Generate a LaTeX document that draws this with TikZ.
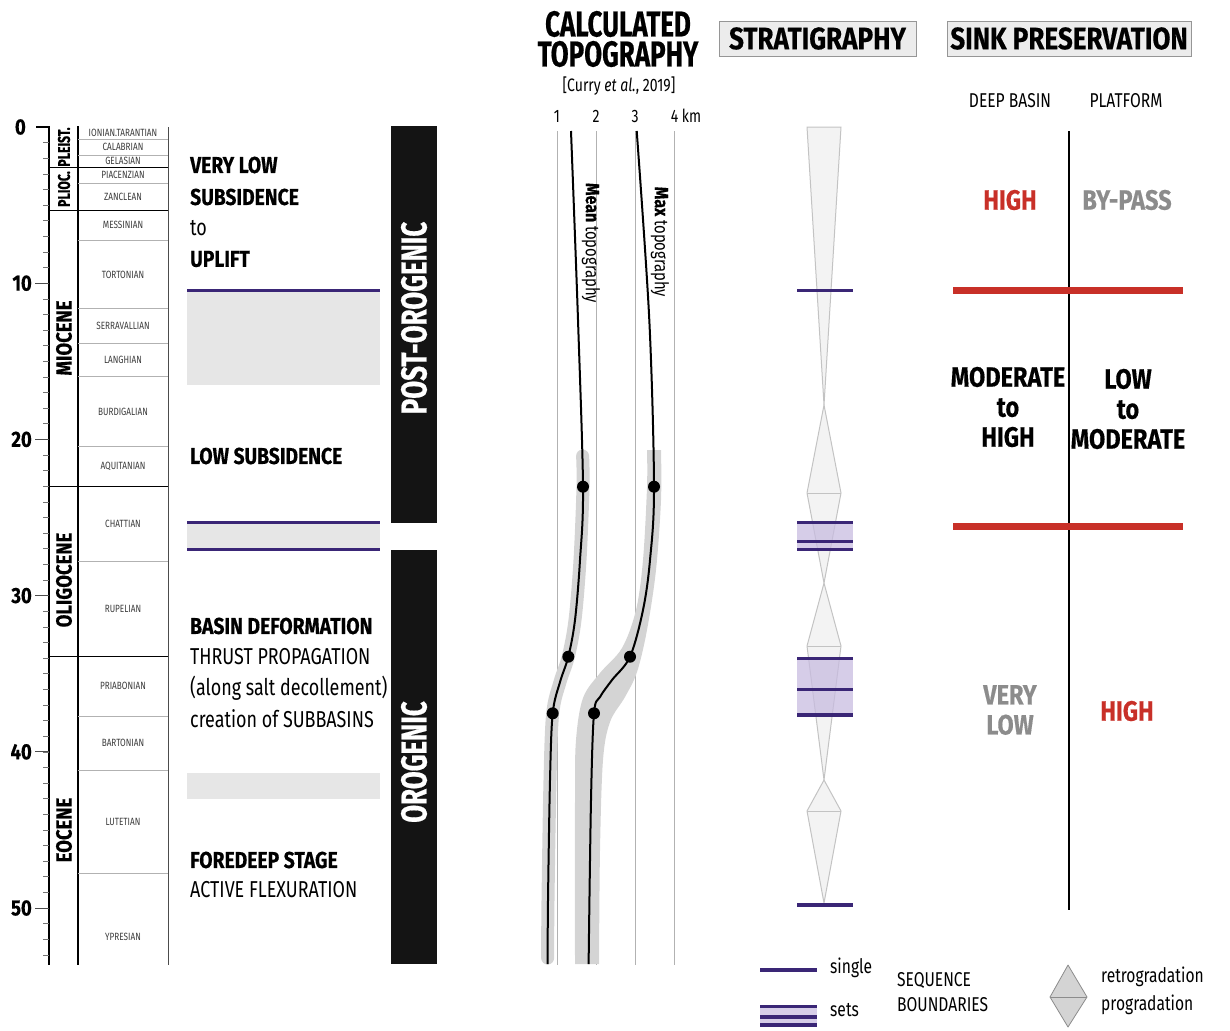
\documentclass[tikz,border=0pt]{standalone}
\usepackage{fontspec}
\setmainfont{Fira Sans}[FakeStretch=0.78, BoldFeatures={FakeStretch=0.84, FakeBold=0.4}]
\newfontfamily\condfont{Fira Sans}[FakeStretch=0.72, BoldFeatures={FakeStretch=0.72, FakeBold=0.5}]
\definecolor{purp}{RGB}{58,38,118}
\definecolor{purpfill}{RGB}{200,188,224}
\definecolor{redc}{RGB}{200,48,40}
\definecolor{bandgray}{RGB}{230,230,230}
\definecolor{topogray}{RGB}{212,212,212}
\definecolor{trifill}{RGB}{243,243,243}
\definecolor{tristroke}{RGB}{195,195,195}
\definecolor{boxfill}{RGB}{236,236,236}
\definecolor{boxdraw}{RGB}{150,150,150}
\definecolor{txtgray}{RGB}{140,140,140}
\definecolor{stagetxt}{RGB}{60,60,60}
\newcommand\fs[1]{\fontsize{#1}{#1}\selectfont}
\begin{document}
\begin{tikzpicture}[x=1pt,y=-1pt,
  stagelbl/.style={font=\fs{10.5}, text=stagetxt, inner sep=0},
  agenum/.style={font=\fs{22}\bfseries, anchor=east, inner sep=0},
  epochlbl/.style={font=\fs{22}\bfseries, rotate=90, inner sep=0},
  epochsm/.style={font=\fs{17}\condfont\bfseries, rotate=90, inner sep=0},
  boldtxt/.style={font=\fs{23}\bfseries, anchor=west, inner sep=0},
  regtxt/.style={font=\fs{23}, anchor=west, inner sep=0},
  bartxt/.style={font=\fs{36}\condfont\bfseries, text=white, rotate=90, inner sep=0},
  seqline/.style={purp, line width=3.5pt},
  seqset/.style={purpfill, fill opacity=0.75},
  band/.style={fill=bandgray},
  tri/.style={fill=trifill, draw=tristroke, line width=1pt, line join=round},
  kmline/.style={black!30, line width=1pt},
  topocurve/.style={line width=2pt, black},
  dot/.style={circle, fill=black, inner sep=0, minimum size=12pt},
  titlebox/.style={draw=boxdraw, fill=boxfill, line width=0.8pt, font=\fs{31}\bfseries, minimum height=35pt, inner sep=0},
  colhead/.style={font=\fs{20}, inner sep=0},
  sinkbig/.style={font=\fs{28}\bfseries, align=center, inner sep=0},
  redline/.style={redc, line width=7pt},
  legtxt/.style={font=\fs{20}, anchor=west, inner sep=0}
]
\useasboundingbox (0,0) rectangle (1230,1030);

% ---------------- time scale ----------------
\draw[line width=2.5pt] (49,126) -- (49,965);
\draw[line width=2.5pt] (78,126) -- (78,965);
\draw[line width=0.8pt, black!70] (168,127) -- (168,965);
\draw[line width=1.6pt] (36,127) -- (49,127);
\foreach \a in {1,...,53} \draw[line width=0.6pt, black!55] (43,{127+15.62*\a}) -- (49,{127+15.62*\a});
\foreach \a in {10,20,30,40,50} \draw[line width=0.8pt, black!70] (35,{127+15.62*\a}) -- (49,{127+15.62*\a});
\node[agenum] (n0) at (26,127) {0};
\foreach \a in {10,20,30,40,50} \node[agenum] (n\a) at (32,{127+15.62*\a}) {\a};

\foreach \y in {167.3,210.3,486.7,656.5} \draw[line width=0.8pt] (49,\y) -- (168,\y);
\foreach \y in {139.1,155.1,183.2,240.2,308.7,342.9,376.5,446.3,561.5,716.0,770.5,873.6}
  \draw[line width=0.6pt, black!30] (78,\y) -- (168,\y);

\node[epochsm] (ep1) at (64,147) {PLEIST.};
\node[epochsm] (ep2) at (64,189) {PLIOC.};
\node[epochlbl] (ep3) at (64,338) {MIOCENE};
\node[epochlbl] (ep4) at (64,580) {OLIGOCENE};
\node[epochlbl] (ep5) at (64,830) {EOCENE};

\node[stagelbl] (s1) at (123,133.2) {IONIAN.TARANTIAN};
\node[stagelbl] (s2) at (123,147.1) {CALABRIAN};
\node[stagelbl] (s3) at (123,161.2) {GELASIAN};
\node[stagelbl] (s4) at (123,175.3) {PIACENZIAN};
\node[stagelbl] (s5) at (123,196.8) {ZANCLEAN};
\node[stagelbl] (s6) at (123,225.3) {MESSINIAN};
\node[stagelbl] (s7) at (123,274.5) {TORTONIAN};
\node[stagelbl] (s8) at (123,325.8) {SERRAVALLIAN};
\node[stagelbl] (s9) at (123,359.7) {LANGHIAN};
\node[stagelbl] (s10) at (123,411.4) {BURDIGALIAN};
\node[stagelbl] (s11) at (123,466.5) {AQUITANIAN};
\node[stagelbl] (s12) at (123,524) {CHATTIAN};
\node[stagelbl] (s13) at (123,609) {RUPELIAN};
\node[stagelbl] (s14) at (123,686) {PRIABONIAN};
\node[stagelbl] (s15) at (123,743) {BARTONIAN};
\node[stagelbl] (s16) at (123,822) {LUTETIAN};
\node[stagelbl] (s17) at (123,937) {YPRESIAN};

% ---------------- tectonic text column ----------------
\fill[band] (187,291) rectangle (380,384.5);
\draw[seqline] (187,290.5) -- (380,290.5);
\fill[band] (187,522.5) rectangle (380,549.5);
\draw[seqline] (187,522.5) -- (380,522.5);
\draw[seqline] (187,549.5) -- (380,549.5);
\fill[band] (187,773) rectangle (380,799);

\node[boldtxt] (t1) at (190,165) {VERY LOW};
\node[boldtxt] (t2) at (190,197) {SUBSIDENCE};
\node[regtxt]  (t3) at (190,228) {to};
\node[boldtxt] (t4) at (190,259) {UPLIFT};
\node[boldtxt] (t5) at (190,456) {LOW SUBSIDENCE};
\node[boldtxt] (t6) at (190,626) {BASIN DEFORMATION};
\node[regtxt]  (t7) at (190,657) {THRUST PROPAGATION};
\node[regtxt]  (t8) at (190,688) {(along salt decollement)};
\node[regtxt]  (t9) at (190,719) {creation of SUBBASINS};
\node[boldtxt] (t10) at (190,860) {FOREDEEP STAGE};
\node[regtxt]  (t11) at (190,890) {ACTIVE FLEXURATION};

\fill[black!92] (391,126) rectangle (437,522.5);
\fill[black!92] (391,550) rectangle (437,964);
\node[bartxt] (post) at (414,318) {POST-OROGENIC};
\node[bartxt] (oro) at (414,762) {OROGENIC};

% ---------------- calculated topography ----------------
\node[font=\fs{36}\condfont\bfseries, align=center, inner sep=0] (ct) at (618,39) {CALCULATED\\[-6pt]TOPOGRAPHY};
\node[font=\fs{18}, inner sep=0] (cur) at (619,86) {[Curry \textit{et al.}, 2019]};

\foreach \x in {557,596,635,674} \draw[kmline] (\x,131) -- (\x,965);
\node[font=\fs{18}, inner sep=0] (k1) at (557,116) {1};
\node[font=\fs{18}, inner sep=0] (k2) at (596,116) {2};
\node[font=\fs{18}, inner sep=0] (k3) at (635,116) {3};
\node[font=\fs{18}, inner sep=0] (k4) at (686,116) {4 km};

% bands
\draw[topogray, line width=13pt, line cap=round] plot[smooth, tension=0.55] coordinates
 {(582.6,456) (583,486.7) (580,560) (575,620) (568.3,656.7) (560,682) (552.7,713.3) (550,780) (548,900) (547.6,958)};
\fill[topogray] plot[smooth, tension=0.55] coordinates
 {(647,450) (647,487) (643,560) (636,610) (622,648) (600,673) (583,698) (576,740) (575,800) (575,964)}
 -- plot[smooth, tension=0.55] coordinates
 {(599,964) (600,850) (603,760) (610,722) (625,697) (637,672) (647,630) (656,570) (661,500) (661,450)}
 -- cycle;

\draw[topocurve] plot[smooth, tension=0.55] coordinates
 {(571,131) (578,320) (583,486.7) (580,560) (575,620) (568.3,656.7) (560,682) (552.7,713.3) (550,780) (548,900) (547.6,964)};
\draw[topocurve] plot[smooth, tension=0.55] coordinates
 {(636.7,131) (649.3,320) (654,486.7) (650,560) (643,610) (630,656.7) (612,680) (600,697) (594,713.3) (591,800) (588.6,964)};

\node[dot] (d1) at (583,486.7) {};
\node[dot] (d2) at (568.3,656.7) {};
\node[dot] (d3) at (552.7,713.3) {};
\node[dot] (d4) at (654,486.7) {};
\node[dot] (d5) at (630,656.7) {};
\node[dot] (d6) at (594,713.3) {};

\node[font=\fs{19}, rotate=-90, inner sep=0] (lm) at (591,243) {\textbf{Mean} topography};
\node[font=\fs{19}, rotate=-90, inner sep=0] (lx) at (660,242) {\textbf{Max} topography};

% ---------------- stratigraphy ----------------
\node[titlebox, minimum width=197pt] (hs) at (817.5,38.5) {STRATIGRAPHY};

\path[tri] (807,127) -- (841,127) -- (824,405) -- cycle;
\path[tri] (824,405) -- (841,493) -- (824,583) -- (807,493) -- cycle;
\draw[tristroke, line width=1pt] (807,493) -- (841,493);
\path[tri] (824,583) -- (841,646) -- (824,780) -- (807,646) -- cycle;
\draw[tristroke, line width=1pt] (807,646) -- (841,646);
\path[tri] (824,780) -- (841,811) -- (824,903) -- (807,811) -- cycle;
\draw[tristroke, line width=1pt] (807,811) -- (841,811);

\fill[seqset] (797,522.3) rectangle (853,549.3);
\fill[seqset] (797,658.3) rectangle (853,715);
\foreach \y in {290.5,522.3,541.7,549.3,658.3,689.3,715,905} \draw[seqline] (797,\y) -- (853,\y);

% ---------------- sink preservation ----------------
\node[titlebox, minimum width=244pt] (hk) at (1069,38.5) {SINK PRESERVATION};
\node[colhead] (db) at (1010,101) {DEEP BASIN};
\node[colhead] (pf) at (1126,101) {PLATFORM};
\draw[line width=1.2pt] (1069,131) -- (1069,910);
\draw[redline] (953,290.5) -- (1183,290.5);
\draw[redline] (953,526) -- (1183,526);

\node[sinkbig, text=redc] (h1) at (1010,200) {HIGH};
\node[sinkbig, text=txtgray] (bp) at (1127,200) {BY-PASS};
\node[sinkbig] (mh) at (1008,407) {MODERATE\\[2pt]to\\[2pt]HIGH};
\node[sinkbig] (lm2) at (1128,409) {LOW\\[2pt]to\\[2pt]MODERATE};
\node[sinkbig, text=txtgray] (vl) at (1010,710) {VERY\\[2pt]LOW};
\node[sinkbig, text=redc] (h2) at (1127,711) {HIGH};

% ---------------- legend ----------------
\draw[seqline] (760,970) -- (817,970);
\node[legtxt] (lsg) at (830,968) {single};
\fill[seqset] (760,1006.7) rectangle (817,1025);
\foreach \y in {1006.7,1017,1025} \draw[seqline] (760,\y) -- (817,\y);
\node[legtxt] (lst) at (830,1010) {sets};
\node[legtxt] (lsq) at (897,981) {SEQUENCE};
\node[legtxt] (lbd) at (897,1005) {BOUNDARIES};
\path[fill=black!17, draw=black!45, line width=0.8pt, line join=round] (1068,965) -- (1087,997) -- (1068,1027) -- (1050,997) -- cycle;
\draw[black!45, line width=0.8pt] (1050,997) -- (1087,997);
\node[legtxt] (lrt) at (1101,977) {retrogradation};
\node[legtxt] (lpg) at (1101,1005) {progradation};
\end{tikzpicture}
\end{document}
